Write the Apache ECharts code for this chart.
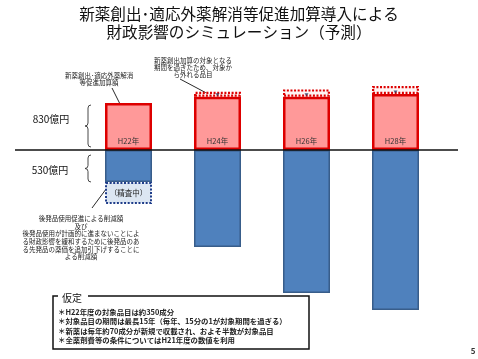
<!DOCTYPE html>
<html><head><meta charset="utf-8">
<script src="https://cdn.jsdelivr.net/npm/echarts@6/dist/echarts.min.js"></script>
<style>html,body{margin:0;padding:0;background:#fff}#c{width:478px;height:359px}</style>
</head><body><div id="c"></div>
<script>
// ---- data (億円) ----
const categories = ['H22年', 'H24年', 'H26年', 'H28年'];
const additionAmount = [830, 940, 940, 990];          // 新薬創出・適応外薬解消等促進加算額
const expiredItems = ['-', 90, 130, 140];             // 対象から外れる品目
const genericSavings = [-565, -1713, -2525, -2826];   // 後発品使用促進による削減額 等
const underReview = [-390, '-', '-', '-'];            // 精査中
const sideLabels = ['830億円', '530億円'];
const reviewText = '（精査中）';
const titleText = '新薬創出･適応外薬解消等促進加算導入による\n財政影響のシミュレーション（予測）';
const note1 = '新薬創出･適応外薬解消\n等促進加算額';
const note2 = '新薬創出加算の対象となる\n期間を過ぎたため、対象か\nら外れる品目';
const note3 = '後発品使用促進による削減額\n及び\n後発品使用が計画的に進まないことによ\nる財政影響を緩和するために後発品のあ\nる先発品の薬価を追加引下げすることに\nよる削減額';
const assumptionTitle = '仮定';
const assumptions = [
  '＊H22年度の対象品目は約350成分',
  '＊対象品目の期間は最長15年（毎年、15分の1が対象期間を過ぎる）',
  '＊新薬は毎年約70成分が新規で収載され、およそ半数が対象品目',
  '＊全薬剤費等の条件についてはH21年度の数値を利用'
];
const pageNo = '5';

const FF = '"Noto Sans CJK JP", "Noto Sans", sans-serif';
const chart = echarts.init(document.getElementById('c'), null, {renderer: 'canvas'});

const arrowData = expiredItems.map((v, i) => v === '-' ? '-' : additionAmount[i]);

chart.setOption({
  animation: false,
  backgroundColor: '#fff',
  title: {
    text: titleText, left: 'center', top: 5, padding: 0,
    textStyle: {fontFamily: FF, fontSize: 15.6, fontWeight: 'normal', color: '#111', lineHeight: 18}
  },
  grid: {left: 84, right: 38, top: 59.4, bottom: 27.8},
  xAxis: {
    type: 'category', data: categories,
    axisLine: {show: false}, axisTick: {show: false}, axisLabel: {show: false}, splitLine: {show: false}
  },
  yAxis: {
    type: 'value', min: -3200, max: 1600,
    axisLine: {show: false}, axisTick: {show: false}, axisLabel: {show: false}, splitLine: {show: false}
  },
  series: [
    {
      name: 'addition', type: 'bar', stack: 'a', barWidth: 47, data: additionAmount,
      itemStyle: {color: '#FF9999', borderColor: '#DD0000', borderWidth: 2.5},
      label: {show: true, position: 'insideBottom', distance: 5, formatter: p => categories[p.dataIndex],
        fontFamily: FF, fontSize: 7.5, color: '#333'}
    },
    {
      name: 'expired', type: 'bar', stack: 'a', barWidth: 47, data: expiredItems,
      itemStyle: {color: '#FFF4F4', borderColor: '#DD0000', borderWidth: 2.2, borderType: [2, 1.6]}
    },
    {
      name: 'generic', type: 'bar', stack: 'a', barWidth: 47, data: genericSavings,
      itemStyle: {color: '#4F81BD', borderColor: '#385D8A', borderWidth: 1.5}
    },
    {
      name: 'review', type: 'bar', stack: 'a', barWidth: 47, data: underReview,
      itemStyle: {color: '#DCE6F2', borderColor: '#1F3D8A', borderWidth: 2, borderType: [2, 1.6]},
      label: {show: true, position: 'inside', formatter: reviewText, fontFamily: FF, fontSize: 7.5, color: '#222'}
    },
    {
      name: 'arrow', type: 'scatter', data: arrowData, symbol: 'triangle', symbolRotate: 180,
      symbolSize: [4, 3], symbolOffset: [0, -2], itemStyle: {color: '#1F3864'}, z: 5
    }
  ]
});

function brace(x, y1, y2) {
  const m = (y1 + y2) / 2;
  const st = {stroke: '#333', lineWidth: 0.9, fill: null};
  return {type: 'group', children: [
    {type: 'bezierCurve', shape: {x1: x + 3, y1: y1, x2: x, y2: y1 + 3, cpx1: x, cpy1: y1}, style: st},
    {type: 'line', shape: {x1: x, y1: y1 + 3, x2: x, y2: m - 3}, style: st},
    {type: 'bezierCurve', shape: {x1: x, y1: m - 3, x2: x - 3, y2: m, cpx1: x, cpy1: m}, style: st},
    {type: 'bezierCurve', shape: {x1: x - 3, y1: m, x2: x, y2: m + 3, cpx1: x, cpy1: m}, style: st},
    {type: 'line', shape: {x1: x, y1: m + 3, x2: x, y2: y2 - 3}, style: st},
    {type: 'bezierCurve', shape: {x1: x, y1: y2 - 3, x2: x + 3, y2: y2, cpx1: x, cpy1: y2}, style: st}
  ]};
}
const y0 = chart.convertToPixel({yAxisIndex: 0}, 0);
const yTopH22 = chart.convertToPixel({yAxisIndex: 0}, additionAmount[0]);
const yBotH22 = chart.convertToPixel({yAxisIndex: 0}, genericSavings[0]);

const g = [
  {type: 'line', shape: {x1: 15, y1: y0, x2: 458, y2: y0}, style: {stroke: '#111', lineWidth: 1.5}, z: 10},
  {type: 'text', style: {text: sideLabels[0], x: 51, y: 119, align: 'center', verticalAlign: 'middle', fontFamily: FF, fontSize: 10, fill: '#111'}},
  {type: 'text', style: {text: sideLabels[1], x: 50, y: 170, align: 'center', verticalAlign: 'middle', fontFamily: FF, fontSize: 10, fill: '#111'}},
  brace(88, yTopH22 + 2, y0 - 3),
  brace(88, y0 + 5, yBotH22),
  {type: 'text', style: {text: note1, x: 99, y: 71.5, align: 'center', verticalAlign: 'top', fontFamily: FF, fontSize: 6.5, lineHeight: 7.5, fill: '#222'}},
  {type: 'line', shape: {x1: 112, y1: 88, x2: 125, y2: 114}, style: {stroke: '#111', lineWidth: 0.9}},
  {type: 'text', style: {text: note2, x: 193, y: 57.5, align: 'center', verticalAlign: 'top', fontFamily: FF, fontSize: 6.5, lineHeight: 7, fill: '#222'}},
  {type: 'line', shape: {x1: 180, y1: 79, x2: 212, y2: 96}, style: {stroke: '#111', lineWidth: 0.9}},
  {type: 'text', style: {text: note3, x: 81, y: 215, align: 'center', verticalAlign: 'top', fontFamily: FF, fontSize: 6.5, lineHeight: 7.6, fill: '#222'}},
  {type: 'line', shape: {x1: 92, y1: 208, x2: 115, y2: 177}, style: {stroke: '#111', lineWidth: 0.9}},
  {type: 'rect', shape: {x: 53, y: 296, width: 256, height: 53}, style: {stroke: '#111', lineWidth: 1.5, fill: '#fff'}, z: 20},
  {type: 'rect', shape: {x: 58, y: 291, width: 30, height: 10}, style: {fill: '#fff'}, z: 21},
  {type: 'text', style: {text: assumptionTitle, x: 62, y: 298.5, align: 'left', verticalAlign: 'middle', fontFamily: FF, fontSize: 10, fill: '#111'}, z: 22},
  {type: 'text', style: {text: pageNo, x: 473, y: 351, align: 'center', verticalAlign: 'middle', fontFamily: FF, fontSize: 8, fontWeight: 'bold', fill: '#333'}}
];
const lineYs = [311.7, 321, 331, 340.5];
assumptions.forEach((t, i) => g.push({type: 'text', style: {text: t, x: 58, y: lineYs[i], align: 'left', verticalAlign: 'middle', fontFamily: FF, fontSize: 7.4, fontWeight: 'bold', fill: '#222'}, z: 22}));
chart.setOption({graphic: g});
</script>
</body></html>
